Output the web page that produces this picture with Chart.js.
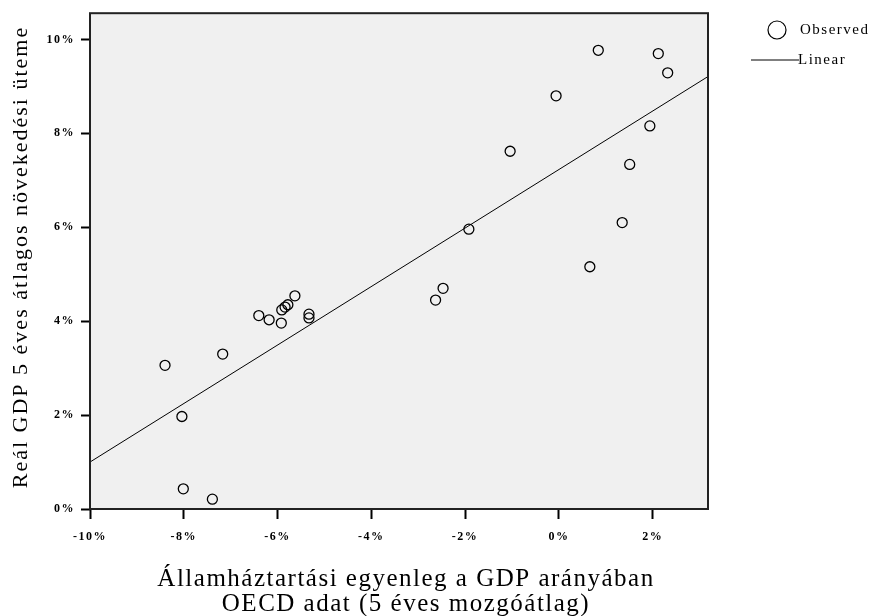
<!DOCTYPE html>
<html>
<head>
<meta charset="utf-8">
<title>Államháztartási egyenleg és GDP növekedés</title>
<script src="https://cdn.jsdelivr.net/npm/chart.js@4.4.1/dist/chart.umd.min.js"></script>
<style>
  html, body { margin: 0; padding: 0; background: #fff; }
  canvas { display: block; }
</style>
</head>
<body>
<canvas id="chart" width="877" height="616"></canvas>
<script>
// budget balance, % of GDP (OECD, 5-year moving average)
const balance = [-8.40, -8.04, -8.01, -7.39, -7.17, -6.40, -6.18, -5.92, -5.91, -5.84,
                 -5.78, -5.63, -5.33, -5.33, -2.63, -2.47, -1.92, -1.04, -0.06, 0.84,
                 0.66, 1.35, 1.51, 1.94, 2.12, 2.32];
// real GDP growth, 5-year average, %
const growth = [3.06, 1.97, 0.43, 0.21, 3.30, 4.12, 4.03, 3.96, 4.24, 4.30,
                4.35, 4.54, 4.15, 4.07, 4.45, 4.70, 5.96, 7.62, 8.80, 9.77,
                5.16, 6.10, 7.34, 8.16, 9.70, 9.29];

// linear fit: growth = fitIntercept + fitSlope * balance
const fitIntercept = 7.23;
const fitSlope = 0.623;

const xRange = [-10, 3.18];
const yRange = [0, 10.56];
const tickStep = 2;

const xTitle = ['Államháztartási egyenleg a GDP arányában', 'OECD adat (5 éves mozgóátlag)'];
const yTitle = 'Reál GDP 5 éves átlagos növekedési üteme';
const seriesNames = ['Observed', 'Linear'];

const points = balance.map((b, i) => ({ x: b, y: growth[i] }));
const fitLine = xRange.map(x => ({ x: x, y: fitIntercept + fitSlope * x }));

const serif = "'Liberation Serif', 'Times New Roman', serif";

// gray plot background, frame, axis titles and the legend
const decorations = {
  id: 'decorations',
  beforeDraw(chart) {
    const { ctx, chartArea: a } = chart;
    ctx.save();
    ctx.fillStyle = '#f0f0f0';
    ctx.fillRect(a.left, a.top, a.right - a.left, a.bottom - a.top);
    ctx.restore();
    // slightly wider spacing for the tick labels
    ctx.letterSpacing = '1.5px';
  },
  afterDraw(chart) {
    const { ctx, chartArea: a } = chart;
    ctx.save();
    ctx.strokeStyle = '#222';
    ctx.lineWidth = 2;
    ctx.strokeRect(a.left, a.top, a.right - a.left, a.bottom - a.top);

    ctx.fillStyle = '#000';
    ctx.textBaseline = 'middle';

    // x axis title
    ctx.letterSpacing = '1.5px';
    ctx.font = '25px ' + serif;
    ctx.textAlign = 'center';
    ctx.fillText(xTitle[0], 406, 579);
    ctx.fillText(xTitle[1], 406, 604);

    // y axis title
    ctx.save();
    ctx.letterSpacing = '2px';
    ctx.translate(21, 257);
    ctx.rotate(-Math.PI / 2);
    ctx.font = '22px ' + serif;
    ctx.fillText(yTitle, 0, 0);
    ctx.restore();

    // legend
    ctx.textAlign = 'left';
    ctx.letterSpacing = '1.5px';
    ctx.font = '15px ' + serif;
    ctx.lineWidth = 1.2;
    ctx.strokeStyle = '#000';
    ctx.beginPath();
    ctx.arc(777, 30, 9, 0, Math.PI * 2);
    ctx.stroke();
    ctx.fillText(seriesNames[0], 800, 30);

    ctx.lineWidth = 1;
    ctx.beginPath();
    ctx.moveTo(751, 60);
    ctx.lineTo(799, 60);
    ctx.stroke();
    ctx.fillText(seriesNames[1], 798, 60);
    ctx.restore();
  }
};

const tickFont = { family: serif, size: 12, weight: 'bold' };

new Chart(document.getElementById('chart'), {
  type: 'scatter',
  data: {
    datasets: [
      {
        label: seriesNames[0],
        data: points,
        pointStyle: 'circle',
        pointRadius: 5,
        pointBorderWidth: 1.3,
        borderColor: '#000',
        backgroundColor: 'rgba(0,0,0,0)'
      },
      {
        type: 'line',
        label: seriesNames[1],
        data: fitLine,
        borderColor: '#000',
        borderWidth: 1,
        pointRadius: 0,
        fill: false
      }
    ]
  },
  options: {
    responsive: false,
    animation: false,
    events: [],
    layout: { padding: { left: 0, top: 13, right: 169, bottom: 0 } },
    plugins: {
      legend: { display: false },
      tooltip: { enabled: false }
    },
    scales: {
      x: {
        type: 'linear',
        min: xRange[0],
        max: xRange[1],
        afterFit(scale) { scale.height = 107; },
        border: { display: false },
        grid: { drawOnChartArea: false, drawTicks: true, tickLength: 10, tickColor: '#000', tickWidth: 2 },
        ticks: {
          stepSize: tickStep,
          includeBounds: false,
          padding: 11,
          color: '#000',
          font: tickFont,
          maxRotation: 0,
          callback: v => v + '%'
        }
      },
      y: {
        type: 'linear',
        min: yRange[0],
        max: yRange[1],
        afterFit(scale) { scale.width = 90; },
        border: { display: false },
        grid: { drawOnChartArea: false, drawTicks: true, tickLength: 9, tickColor: '#000', tickWidth: 2 },
        ticks: {
          stepSize: tickStep,
          includeBounds: false,
          padding: 6,
          color: '#000',
          font: tickFont,
          callback: v => v + '%'
        }
      }
    }
  },
  plugins: [decorations]
});
</script>
</body>
</html>
